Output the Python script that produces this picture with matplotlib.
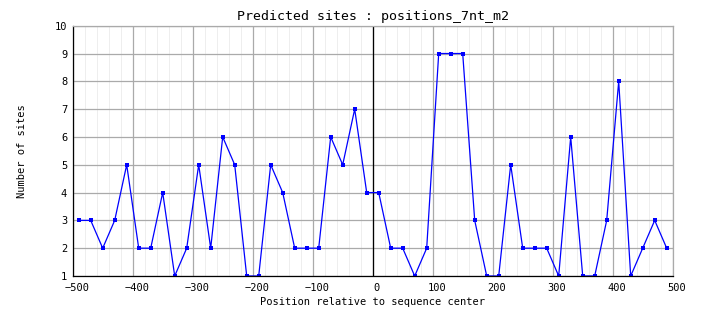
import matplotlib
matplotlib.use("Agg")
import matplotlib.pyplot as plt
from matplotlib.ticker import MultipleLocator
import matplotlib.transforms as mtransforms

positions = list(range(-490, 491, 20))
sites = [3, 3, 2, 3, 5, 2, 2, 4, 1, 2,
         5, 2, 6, 5, 1, 1, 5, 4, 2, 2,
         2, 6, 5, 7, 4, 4, 2, 2, 1, 2,
         9, 9, 9, 3, 1, 1, 5, 2, 2, 2,
         1, 6, 1, 1, 3, 8, 1, 2, 3, 2]

title = "Predicted sites : positions_7nt_m2"
xlabel = "Position relative to sequence center"
ylabel = "Number of sites"

plt.rcParams['font.family'] = ['DejaVu Sans Mono']

fig = plt.figure(figsize=(7.04, 3.28), dpi=100)
ax = fig.add_axes([72.7/704, 1-276/328, 600/704, (276-25.7)/328])

ax.set_xlim(-500, 500)
ax.set_ylim(1, 10)
ax.xaxis.set_major_locator(MultipleLocator(100))
ax.xaxis.set_minor_locator(MultipleLocator(20))
ax.yaxis.set_major_locator(MultipleLocator(1))

ax.grid(which='minor', axis='x', color='#eeeeee', linewidth=0.7)
ax.grid(which='major', color='#aaaaaa', linewidth=0.9)
ax.set_axisbelow(True)

ax.axvline(0, color='black', linewidth=0.9)
ax.plot(positions, sites, color='#0000ff', linewidth=0.9, marker='s',
        markersize=2.5, markerfacecolor='#0000ff', markeredgewidth=0)

for s in ['top', 'right']:
    ax.spines[s].set_color('#aaaaaa')
for s in ['left', 'bottom']:
    ax.spines[s].set_color('black')
for s in ax.spines.values():
    s.set_linewidth(0.9)

ax.tick_params(which='both', length=0, labelsize=7.5, pad=4)
ax.tick_params(axis='x', pad=5)
offset = mtransforms.ScaledTranslation(4/100, 0, fig.dpi_scale_trans)
for lbl in ax.get_xticklabels():
    lbl.set_transform(lbl.get_transform() + offset)

ax.set_title(title, fontsize=9.5, pad=4)
ax.set_xlabel(xlabel, fontsize=7.5, labelpad=3)
ax.set_ylabel(ylabel, fontsize=7.5, labelpad=20)

fig.savefig("out.png", dpi=100)
